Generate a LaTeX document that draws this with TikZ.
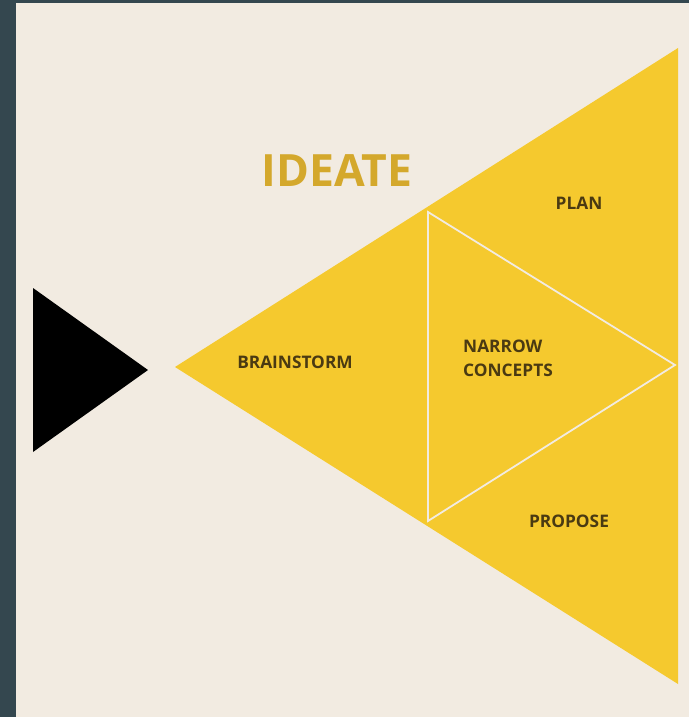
\documentclass[tikz,border=0pt]{standalone}
\usepackage{fontspec}
\setmainfont{Open Sans}
\definecolor{slate}{HTML}{34474F}
\definecolor{cream}{HTML}{F2EBE1}
\definecolor{sun}{HTML}{F5C92E}
\definecolor{gold}{HTML}{D4A82C}
\definecolor{ink}{HTML}{4A3A12}
\tikzset{
  lbl/.style={text=ink, font=\fontsize{17.3}{24}\selectfont\bfseries, align=left, inner sep=0pt},
  ttl/.style={text=gold, font=\fontsize{44.5}{48}\selectfont\bfseries, inner sep=0pt}
}
\begin{document}
\begin{tikzpicture}[x=1pt,y=-1pt]
\useasboundingbox (0,0) rectangle (689,717);
\fill[slate] (0,0) rectangle (689,717);
\fill[cream] (16,3) rectangle (689,717);
% black triangle
\coordinate (b1) at (33,288);
\coordinate (b2) at (148,370);
\coordinate (b3) at (33,452);
\fill[black] (b1) -- (b2) -- (b3) -- cycle;
% big yellow triangle
\coordinate (y1) at (175,367);
\coordinate (y2) at (678,48);
\coordinate (y3) at (678,684);
\fill[sun] (y1) -- (y2) -- (y3) -- cycle;
% inner white triangle
\coordinate (w1) at (428,212);
\coordinate (w2) at (675,365);
\coordinate (w3) at (428,521);
\draw[cream, line width=1.8pt, line join=miter] (w1) -- (w2) -- (w3) -- cycle;
% labels
\node[ttl] (ideate) at (337,171) {IDEATE};
\node[lbl] (brain) at (295,362) {BRAINSTORM};
\node[lbl] (plan) at (579,203) {PLAN};
\node[lbl, anchor=west] (narrow) at (463,358) {NARROW\\CONCEPTS};
\node[lbl] (propose) at (569,521) {PROPOSE};
\end{tikzpicture}
\end{document}
